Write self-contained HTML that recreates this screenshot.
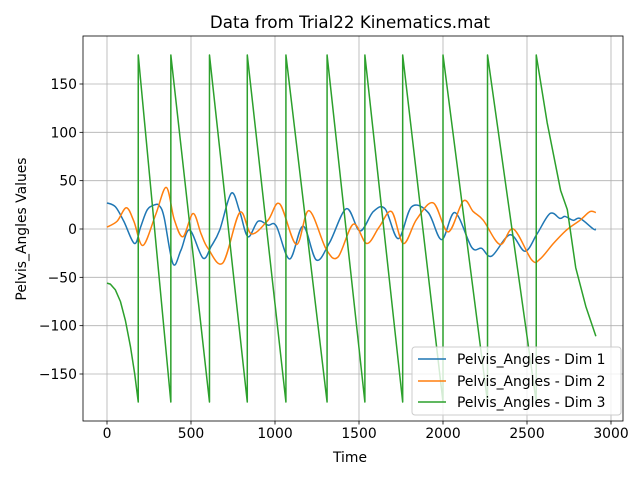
<!DOCTYPE html>
<html><head><meta charset="utf-8"><style>
body{margin:0;background:#fff}
svg text{font-family:"DejaVu Sans","Liberation Sans",sans-serif}
</style></head><body>
<svg id="chart" width="640" height="480" viewBox="0 0 640 480"></svg>
<script>
const xTicks=[0,500,1000,1500,2000,2500,3000];
const yTicks=[-150,-100,-50,0,50,100,150];
const dim1T=[0,50,100,164,200,240,284,312,340,393,440,492,571,620,671,740,790,839,899,958,1008,1087,1167,1246,1325,1425,1506,1585,1655,1734,1813,1912,1992,2071,2171,2230,2290,2399,2488,2560,2637,2696,2726,2775,2815,2895,2910];
const dim1V=[27,23,8,-15,2,20,25,24,12,-36,-22,-1,-30,-18,-1,37,18,-8,8,4,3,-31,3,-32,-14,21,-2,18,21,-10,23,17,-11,17,-19,-20,-28,-6,-23,-5,16,11,13,9,11,0,0];
const dim2T=[0,60,115,160,214,290,353,400,452,512,560,601,690,790,859,958,1028,1127,1202,1305,1375,1466,1546,1620,1694,1764,1843,1942,2031,2121,2180,2240,2339,2419,2528,2578,2657,2736,2815,2875,2910];
const dim2V=[2,8,22,8,-17,15,43,10,-8,16,-5,-20,-35,17,-5,9,26,-16,19,-21,-29,5,-15,2,18,-15,10,27,-3,29,18,9,-16,0,-32,-31,-15,-1,9,18,17];
const dim3T=[0,20,50,80,110,140,165,186,186,380,380,610,610,835,835,1065,1065,1310,1310,1535,1535,1760,1760,2000,2000,2265,2265,2555,2555,2620,2700,2740,2790,2850,2910];
const dim3V=[-56,-57,-63,-75,-95,-122,-150,-179,180,-179,180,-179,180,-179,180,-179,180,-179,180,-179,180,-179,180,-179,180,-179,180,-179,180,110,40,20,-40,-80,-111];
const L=83,R=623,T=36,B=421;
const xs=t=>107+t*(504/3000);
const ys=v=>229-v*(145/150);
const svg=document.getElementById('chart');
const NS='http://www.w3.org/2000/svg';
function mk(tag,attrs,parent){const e=document.createElementNS(NS,tag);for(const k in attrs)e.setAttribute(k,attrs[k]);(parent||svg).appendChild(e);return e;}
xTicks.forEach(t=>{const g=mk('line',{x1:xs(t),x2:xs(t),y1:T,y2:B,stroke:'#b0b0b0','stroke-width':0.8});

});
yTicks.forEach(v=>{const g=mk('line',{x1:L,x2:R,y1:ys(v),y2:ys(v),stroke:'#b0b0b0','stroke-width':0.8});

});
function spline(T_,V){const p=T_.map((t,i)=>[xs(t),ys(V[i])]);
let d='M'+p[0][0]+','+p[0][1];
for(let i=0;i<p.length-1;i++){const p0=p[Math.max(0,i-1)],p1=p[i],p2=p[i+1],p3=p[Math.min(p.length-1,i+2)];
const c1=[p1[0]+(p2[0]-p0[0])/6,p1[1]+(p2[1]-p0[1])/6],c2=[p2[0]-(p3[0]-p1[0])/6,p2[1]-(p3[1]-p1[1])/6];
d+=` C${c1[0]},${c1[1]} ${c2[0]},${c2[1]} ${p2[0]},${p2[1]}`;}return d;}
const clip=mk('clipPath',{id:'cp'});mk('rect',{x:L,y:T,width:R-L,height:B-T},clip);
const s1=mk('path',{d:spline(dim1T,dim1V),fill:'none',stroke:'#1f77b4','stroke-width':1.5,'clip-path':'url(#cp)'});


const s2=mk('path',{d:spline(dim2T,dim2V),fill:'none',stroke:'#ff7f0e','stroke-width':1.5,'clip-path':'url(#cp)'});


const s3=mk('polyline',{points:dim3T.map((t,i)=>xs(t)+','+ys(dim3V[i])).join(' '),fill:'none',stroke:'#2ca02c','stroke-width':1.5,'stroke-linejoin':'round','clip-path':'url(#cp)'});


const fr=mk('rect',{x:L,y:T,width:R-L,height:B-T,fill:'none',stroke:'#000','stroke-width':0.8});


xTicks.forEach(t=>{mk('line',{x1:xs(t),x2:xs(t),y1:B,y2:B+3.5,stroke:'#000','stroke-width':0.8});
const tx=mk('text',{x:xs(t),y:B+17,'text-anchor':'middle','font-size':'13.9px',fill:'#000'});tx.textContent=t;

});
yTicks.forEach(v=>{mk('line',{x1:L-3.5,x2:L,y1:ys(v),y2:ys(v),stroke:'#000','stroke-width':0.8});
const tx=mk('text',{x:L-6,y:ys(v)+5,'text-anchor':'end','font-size':'13.9px',fill:'#000'});tx.textContent=v.toString().replace('-','\u2212');

});
</script>
<svg width="640" height="480" style="position:absolute;left:0;top:0">
<text x="350" y="28" text-anchor="middle" font-size="16.7px">Data from Trial22 Kinematics.mat</text>
<text x="350" y="462" text-anchor="middle" font-size="13.9px">Time</text>
<text x="26" y="229" text-anchor="middle" font-size="13.9px" transform="rotate(-90 26 229)">Pelvis_Angles Values</text>
<g>
<rect x="412" y="347" width="209" height="68" rx="3" fill="#fff" fill-opacity="0.8" stroke="#ccc"/>
<line x1="418" x2="446" y1="359" y2="359" stroke="#1f77b4" stroke-width="1.5"/>
<text x="457" y="364" font-size="13.9px">Pelvis_Angles - Dim 1</text>
<line x1="418" x2="446" y1="381" y2="381" stroke="#ff7f0e" stroke-width="1.5"/>
<text x="457" y="386" font-size="13.9px">Pelvis_Angles - Dim 2</text>
<line x1="418" x2="446" y1="402" y2="402" stroke="#2ca02c" stroke-width="1.5"/>
<text x="457" y="407" font-size="13.9px">Pelvis_Angles - Dim 3</text>
</g>
</svg>
</body></html>
